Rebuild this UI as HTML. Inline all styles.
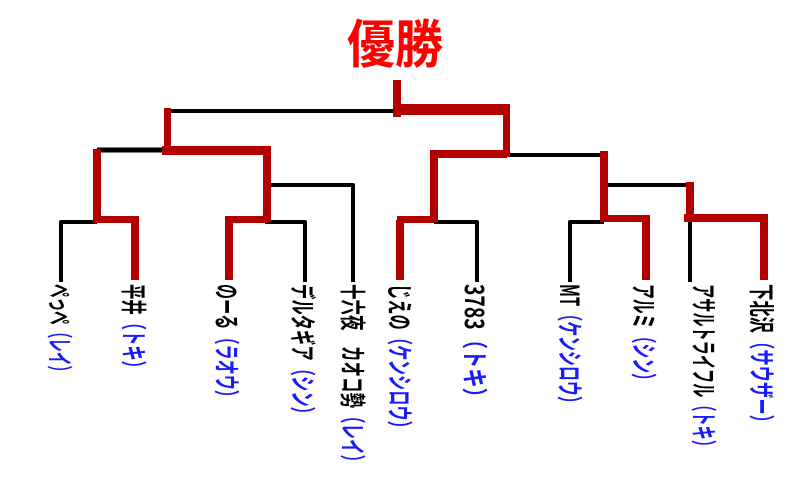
<!DOCTYPE html>
<html><head><meta charset="utf-8"><style>
html,body{margin:0;padding:0;background:#fff;}
svg{display:block;}
text{font-family:"Noto Sans CJK JP","Liberation Sans",sans-serif;}
</style></head><body>
<svg width="804" height="480" viewBox="0 0 804 480" xmlns="http://www.w3.org/2000/svg">
<rect width="804" height="480" fill="#fff"/>
<text x="395" y="63" text-anchor="middle" font-size="52" font-weight="bold" fill="#ff0000" textLength="96" lengthAdjust="spacingAndGlyphs">優勝</text>
<g stroke="#000" stroke-width="4" fill="none" stroke-linejoin="round">
<path d="M168 111H398"/>
<path d="M97 150H167" stroke-width="5"/>
<path d="M61 282V222H97"/>
<path d="M265 222H305V282"/>
<path d="M267 185H353V282"/>
<path d="M506 155H604"/>
<path d="M434 222H477V282"/>
<path d="M570 282V222H604"/>
<path d="M604 185H690V282"/>
</g>
<g fill="#b30000">
<rect x="393" y="80" width="8" height="37"/>
<rect x="401" y="104" width="109" height="11"/>
<rect x="503" y="115" width="7" height="42"/>
<rect x="430" y="150" width="77" height="8"/>
<rect x="430" y="157" width="8" height="65"/>
<rect x="397" y="216" width="37" height="7"/>
<rect x="396" y="220" width="8" height="60"/>
<rect x="600" y="151" width="8" height="68"/>
<rect x="600" y="215" width="50" height="7"/>
<rect x="642" y="219" width="8" height="61"/>
<rect x="686" y="182" width="8" height="40"/>
<rect x="684" y="214" width="84" height="8"/>
<rect x="760" y="218" width="8" height="62"/>
<rect x="164" y="108" width="7" height="45"/>
<rect x="162" y="146" width="109" height="9"/>
<rect x="263" y="147" width="8" height="75"/>
<rect x="93" y="149" width="8" height="73"/>
<rect x="93" y="216" width="46" height="7"/>
<rect x="131" y="218" width="8" height="62"/>
<rect x="225" y="216" width="42" height="7"/>
<rect x="225" y="219" width="8" height="61"/>
</g>
<g font-size="26" font-weight="bold" dominant-baseline="central">
<text transform="translate(61,284) rotate(90)" textLength="95" lengthAdjust="spacingAndGlyphs"><tspan fill="#000">ぺっぺ</tspan><tspan fill="#1a1aff">（レイ）</tspan></text>
<text transform="translate(135,284) rotate(90)" textLength="92" lengthAdjust="spacingAndGlyphs"><tspan fill="#000">平井</tspan><tspan fill="#1a1aff">（トキ）</tspan></text>
<text transform="translate(228,284) rotate(90)" textLength="121" lengthAdjust="spacingAndGlyphs"><tspan fill="#000">のーる</tspan><tspan fill="#1a1aff">（ラオウ）</tspan></text>
<text transform="translate(304,284) rotate(90)" textLength="138" lengthAdjust="spacingAndGlyphs"><tspan fill="#000">デルタギア</tspan><tspan fill="#1a1aff">（シン）</tspan></text>
<text transform="translate(354,284) rotate(90)" textLength="186" lengthAdjust="spacingAndGlyphs"><tspan fill="#000">十六夜　カオコ勢</tspan><tspan fill="#1a1aff">（レイ）</tspan></text>
<text transform="translate(401,284) rotate(90)" textLength="152" lengthAdjust="spacingAndGlyphs"><tspan fill="#000">じえの</tspan><tspan fill="#1a1aff">（ケンシロウ）</tspan></text>
<text transform="translate(476,284) rotate(90)" textLength="123" lengthAdjust="spacingAndGlyphs"><tspan fill="#000">3783</tspan><tspan fill="#1a1aff">（トキ）</tspan></text>
<text transform="translate(571,284) rotate(90)" textLength="127" lengthAdjust="spacingAndGlyphs"><tspan fill="#000">MT</tspan><tspan fill="#1a1aff">（ケンシロウ）</tspan></text>
<text transform="translate(645,284) rotate(90)" textLength="104" lengthAdjust="spacingAndGlyphs"><tspan fill="#000">アルミ</tspan><tspan fill="#1a1aff">（シン）</tspan></text>
<text transform="translate(705,284) rotate(90)" textLength="170" lengthAdjust="spacingAndGlyphs"><tspan fill="#000">アサルトライフル</tspan><tspan fill="#1a1aff">（トキ）</tspan></text>
<text transform="translate(763,284) rotate(90)" textLength="147" lengthAdjust="spacingAndGlyphs"><tspan fill="#000">下北沢</tspan><tspan fill="#1a1aff">（サウザー）</tspan></text>
</g>
</svg>
</body></html>
